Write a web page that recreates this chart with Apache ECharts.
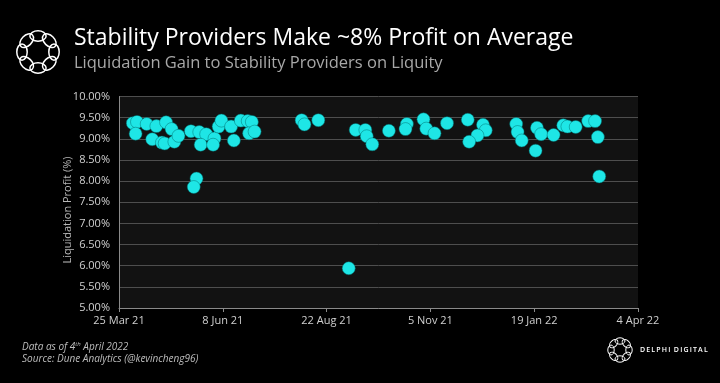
<!DOCTYPE html>
<html>
<head>
<meta charset="utf-8">
<script src="https://cdn.jsdelivr.net/npm/echarts@6/dist/echarts.min.js"></script>
<style>
html,body{margin:0;padding:0;background:#000;}
#c{width:720px;height:383px;}
</style>
</head>
<body>
<div id="c"></div>
<script>
// ---- data ----
const startDate = '2021-03-25';
const endDate = '2022-04-04';
const xTickLabels = ['25 Mar 21', '8 Jun 21', '22 Aug 21', '5 Nov 21', '19 Jan 22', '4 Apr 22'];
const dates = [
  '2021-04-04','2021-04-07','2021-04-06','2021-04-14','2021-04-21','2021-04-18','2021-04-28','2021-05-02',
  '2021-04-25','2021-04-27','2021-05-04','2021-05-07','2021-05-16','2021-05-22','2021-05-27','2021-05-23',
  '2021-05-20','2021-05-18','2021-06-02','2021-06-01','2021-06-05','2021-06-07','2021-06-14','2021-06-16',
  '2021-06-21','2021-06-26','2021-06-29','2021-06-27','2021-07-01','2021-08-04','2021-08-06','2021-08-16',
  '2021-09-07','2021-09-12','2021-09-19','2021-09-20','2021-09-24','2021-10-06','2021-10-19','2021-10-18',
  '2021-10-31','2021-11-02','2021-11-08','2021-11-17','2021-12-02','2021-12-13','2021-12-15','2021-12-09',
  '2021-12-03','2022-01-06','2022-01-07','2022-01-10','2022-01-21','2022-01-24','2022-01-20','2022-02-02',
  '2022-02-09','2022-02-12','2022-02-18','2022-02-27','2022-03-04','2022-03-06','2022-03-07'
];
const profits = [
  9.37, 9.40, 9.12, 9.35, 9.30, 8.99, 9.39, 9.23,
  8.91, 8.89, 8.93, 9.07, 9.18, 9.16, 9.11, 8.86,
  8.06, 7.86, 9.01, 8.86, 9.29, 9.43, 9.29, 8.96,
  9.43, 9.42, 9.40, 9.13, 9.17, 9.44, 9.34, 9.44,
  5.94, 9.21, 9.21, 9.06, 8.87, 9.19, 9.35, 9.23,
  9.46, 9.24, 9.13, 9.37, 9.45, 9.33, 9.20, 9.08,
  8.93, 9.35, 9.16, 8.96, 9.26, 9.11, 8.72, 9.09,
  9.32, 9.29, 9.28, 9.42, 9.42, 9.04, 8.11
];
const yMin = 5, yMax = 10, yStep = 0.5;

// ---- build ----
const DAY = 86400000;
function toDay(s) {
  const p = s.split('-').map(Number);
  const b = startDate.split('-').map(Number);
  return (Date.UTC(p[0], p[1] - 1, p[2]) - Date.UTC(b[0], b[1] - 1, b[2])) / DAY;
}
const totalDays = toDay(endDate);
const tickStep = totalDays / (xTickLabels.length - 1);
const points = dates.map((d, i) => [toDay(d), profits[i]]);

const FONT = 'Open Sans';
const chart = echarts.init(document.getElementById('c'), null, {renderer: 'canvas'});

function logoRing(cx, cy, R, r, n, w) {
  const els = [];
  for (let i = 0; i < n; i++) {
    const a = (i / n) * Math.PI * 2 - Math.PI / 2;
    els.push({
      type: 'ellipse',
      shape: {cx: cx + R * Math.cos(a), cy: cy + R * Math.sin(a), rx: r * 1.25, ry: r * 0.8},
      style: {fill: null, stroke: '#fff', lineWidth: w},
      originX: cx + R * Math.cos(a), originY: cy + R * Math.sin(a),
      rotation: -a - Math.PI / 2,
      silent: true
    });
  }
  return els;
}

chart.setOption({
  backgroundColor: '#000',
  animation: false,
  grid: {left: 119, right: 82, top: 96.5, bottom: 75, show: true, backgroundColor: '#121212', borderWidth: 0},
  xAxis: {
    type: 'value', min: 0, max: totalDays, interval: tickStep,
    axisLine: {show: true, lineStyle: {color: '#8a8a8a', width: 1}},
    axisTick: {show: true, length: 4, lineStyle: {color: '#8a8a8a'}},
    splitLine: {show: false},
    axisLabel: {
      color: '#d0d0d0', fontFamily: FONT, fontSize: 11, margin: 7,
      formatter: v => xTickLabels[Math.round(v / tickStep)] || ''
    }
  },
  yAxis: {
    type: 'value', min: yMin, max: yMax, interval: yStep,
    axisLine: {show: true, lineStyle: {color: '#8a8a8a', width: 1}},
    axisTick: {show: false},
    splitLine: {show: true, lineStyle: {color: '#4e4e4e', width: 1}},
    axisLabel: {
      color: '#d0d0d0', fontFamily: FONT, fontSize: 11, margin: 9,
      formatter: v => v.toFixed(2) + '%'
    }
  },
  series: [{
    type: 'scatter',
    data: points,
    symbolSize: 13,
    itemStyle: {color: '#1ee6e6', borderColor: 'rgba(0,110,110,0.8)', borderWidth: 0.6, opacity: 1}
  }],
  graphic: [
    ...logoRing(38, 52, 16, 6.5, 8, 1.5),
    {type: 'text', left: 74, top: 27, silent: true,
     style: {text: 'Stability Providers Make ~8% Profit on Average', fill: '#ffffff', font: '400 23px "Open Sans"'}},
    {type: 'text', left: 74, top: 55, silent: true,
     style: {text: 'Liquidation Gain to Stability Providers on Liquity', fill: '#a8a8a8', font: '400 16.5px "Open Sans"'}},
    {type: 'text', x: 68, y: 210, rotation: Math.PI / 2, silent: true,
     style: {text: 'Liquidation Profit (%)', fill: '#b8b8b8', font: '400 11px "Open Sans"', align: 'center', verticalAlign: 'middle'}},
    {type: 'text', left: 22, top: 341, silent: true,
     style: {
       text: '{a|Data as of 4}{s|th}{a| April 2022}\n{a|Source: Dune Analytics (@kevincheng96)}',
       rich: {
         a: {fill: '#bdbdbd', font: 'italic 400 10px "Open Sans"', lineHeight: 12},
         s: {fill: '#bdbdbd', font: 'italic 400 6px "Open Sans"', verticalAlign: 'top', lineHeight: 12}
       }
     }},
    ...logoRing(620, 350, 9, 4, 8, 1),
    {type: 'text', left: 640, top: 346, silent: true,
     style: {text: 'D\u2009E\u2009L\u2009P\u2009H\u2009I\u2002D\u2009I\u2009G\u2009I\u2009T\u2009A\u2009L', fill: '#ffffff', font: '600 7px "Open Sans"'}}
  ]
});
</script>
</body>
</html>
